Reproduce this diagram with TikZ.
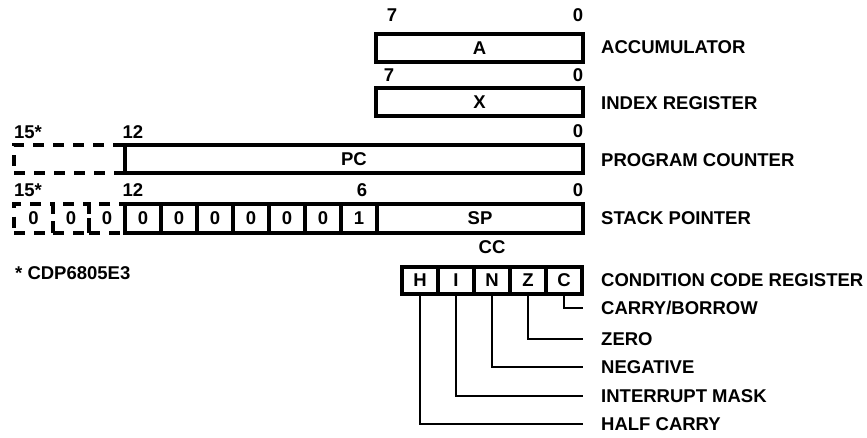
\documentclass[tikz,border=0pt]{standalone}
\usepackage{fontspec}
\setmainfont{Liberation Sans}
\usetikzlibrary{positioning}

\begin{document}
\begin{tikzpicture}[x=1pt, y=-1pt,
    font=\fontsize{18.5}{20}\selectfont\bfseries,
    reg/.style={draw, line width=4pt, minimum height=28pt, inner sep=0pt},
    dashreg/.style={reg, dash pattern=on 11pt off 9pt},
    bitcell/.style={reg, minimum width=36pt},
    desc/.style={anchor=west, inner sep=0pt},
    wire/.style={line width=1.4pt}]
  \useasboundingbox (0,0) rectangle (867,437);

  % Accumulator
  \node[reg, minimum width=207pt] (acc) at (479.5,48) {A};
  \node (acc7) at (392,15) {7};
  \node (acc0) at (578,15) {0};
  \node[desc] (accname) at (601,47) {ACCUMULATOR};

  % Index register
  \node[reg, minimum width=207pt] (idx) at (479.5,102) {X};
  \node (idx7) at (389,75) {7};
  \node (idx0) at (578,75) {0};
  \node[desc] (idxname) at (601,103) {INDEX REGISTER};

  % Program counter (dashed part only on CDP6805E3)
  \node[dashreg, minimum width=111pt] (pcx) at (69.5,159) {};
  \node[reg, minimum width=458pt] (pc) at (354,159) {PC};
  \node (pc15) at (28,132) {15*};
  \node (pc12) at (133,132) {12};
  \node (pc0) at (578,131) {0};
  \node[desc] (pcname) at (601,160) {PROGRAM COUNTER};

  % Stack pointer
  \node[dashreg, minimum width=39pt, minimum height=29pt] (spx1) at (33.5,218) {0};
  \node[dashreg, minimum width=36pt, minimum height=29pt] (spx2) at (71,218) {0};
  \node[dashreg, minimum width=36pt, minimum height=29pt] (spx3) at (107,218) {0};
  \node[bitcell, minimum height=29pt] (sp12) at (143,218) {0};
  \node[bitcell, minimum height=29pt] (sp11) at (179,218) {0};
  \node[bitcell, minimum height=29pt] (sp10) at (215,218) {0};
  \node[bitcell, minimum height=29pt] (sp9) at (251,218) {0};
  \node[bitcell, minimum height=29pt] (sp8) at (287,218) {0};
  \node[bitcell, minimum height=29pt] (sp7) at (323,218) {0};
  \node[bitcell, minimum height=29pt] (sp6) at (359,218) {1};
  \node[reg, minimum width=206pt, minimum height=29pt] (sp) at (480,218) {SP};
  \node (sp15) at (28,190) {15*};
  \node (sp12lbl) at (133,190) {12};
  \node (sp6lbl) at (362,190) {6};
  \node (sp0lbl) at (578,190) {0};
  \node[desc] (spname) at (601,218) {STACK POINTER};

  % Footnote
  \node[desc] (note) at (15,273) {* CDP6805E3};

  % Condition code register
  \node (cclbl) at (492,247) {CC};
  \node[bitcell, minimum height=27pt] (ccH) at (420,280.5) {H};
  \node[bitcell, minimum height=27pt] (ccI) at (456,280.5) {I};
  \node[bitcell, minimum height=27pt] (ccN) at (492,280.5) {N};
  \node[bitcell, minimum height=27pt] (ccZ) at (528,280.5) {Z};
  \node[bitcell, minimum height=27pt] (ccC) at (564,280.5) {C};
  \node[desc] (ccname) at (601,280) {CONDITION CODE REGISTER};

  % Flag leads
  \coordinate (endC) at (583,308);
  \coordinate (endZ) at (583,339);
  \coordinate (endN) at (583,367);
  \coordinate (endI) at (583,396);
  \coordinate (endH) at (583,424);
  \draw[wire] (ccC.south) |- (endC);
  \draw[wire] (ccZ.south) |- (endZ);
  \draw[wire] (ccN.south) |- (endN);
  \draw[wire] (ccI.south) |- (endI);
  \draw[wire] (ccH.south) |- (endH);
  \node[desc] (carry) at (601,308) {CARRY/BORROW};
  \node[desc] (zero) at (601,339) {ZERO};
  \node[desc] (neg) at (601,367) {NEGATIVE};
  \node[desc] (irq) at (601,396) {INTERRUPT MASK};
  \node[desc] (half) at (601,424) {HALF CARRY};
\end{tikzpicture}
\end{document}
